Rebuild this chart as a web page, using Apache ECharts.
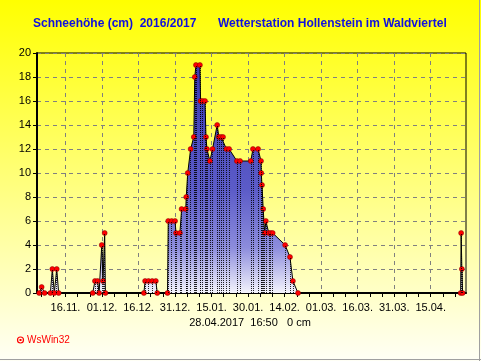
<!DOCTYPE html>
<html><head><meta charset="utf-8">
<script src="https://cdn.jsdelivr.net/npm/echarts@6/dist/echarts.min.js"></script>
<style>html,body{margin:0;padding:0;background:#fff}#c{width:481px;height:361px}</style>
</head><body><div id="c"></div>
<script>
// days since 01.11.2016 (fractional = readings within a day)
const dayOffset = [4.2,5.2,6.4,8.8,9.6,10.4,11.4,12.2,
  26.2,27.1,28.2,28.8,29.9,30.4,31.1,31.4,
  47.2,47.7,49.1,50.6,52.1,52.7,
  56.9,57.2,58.6,60.0,60.4,62.0,62.7,64.4,64.6,65.2,66.4,67.7,68.1,68.6,70.2,70.5,71.3,72.3,72.7,73.1,74.3,75.4,77.3,78.0,78.9,79.7,81.1,82.2,85.4,86.7,91.1,92.0,94.1,95.3,95.4,95.7,96.2,96.8,97.3,98.5,99.3,100.1,105.2,107.2,108.4,110.5,
  177.3,177.5,177.8,178.1];
const snowCm = [0,0.5,0,0,2,0,2,0,
  0,1,1,0,4,1,5,0,
  0,1,1,1,1,0,
  0,6,6,6,5,5,7,7,8,10,12,13,18,19,19,16,16,16,13,12,11,12,14,13,13,13,12,12,11,11,11,12,12,11,10,9,7,5,6,5,5,5,4,3,1,0,
  0,5,2,0];
const tickDays = [15,30,45,60,75,90,105,120,135,150,165];
const tickLabels = ["16.11.","01.12.","16.12.","31.12.","15.01.","30.01.","14.02.","01.03.","16.03.","31.03.","15.04."];
const titleLeft = "Schneehöhe (cm)  2016/2017";
const titleRight = "Wetterstation Hollenstein im Waldviertel";
const footer = "28.04.2017  16:50   0 cm";
const brand = "WsWin32";

const chart = echarts.init(document.getElementById('c'), null, {renderer:'canvas'});
const points = dayOffset.map((d,i)=>[d, snowCm[i]]);
const hatch = points.filter(p=>p[1]>0).map(p=>[{coord:[p[0],0]},{coord:[p[0],p[1]]}]);
const minorTicks = []; for (let d=5; d<=175; d+=5) minorTicks.push(d);
const labelMap = {}; tickDays.forEach((d,i)=>labelMap[d]=tickLabels[i]);
const FF = '"Liberation Sans", Arial, sans-serif';
const XMIN = 3.3, XMAX = 179.5;

chart.setOption({
  animation:false,
  backgroundColor:{type:'linear',x:0,y:0,x2:0,y2:1,colorStops:[{offset:0,color:'#ffff00'},{offset:1,color:'#fffff6'}]},
  grid:{left:37, top:53, width:429, height:240, show:true, borderColor:'#000', borderWidth:1, backgroundColor:'transparent'},
  xAxis:[
    {type:'value', min:XMIN, max:XMAX, position:'bottom',
     axisLine:{show:true, onZero:false, lineStyle:{color:'#000', width:2}},
     axisTick:{show:true, customValues:minorTicks, length:4, lineStyle:{color:'#000'}},
     axisLabel:{customValues:tickDays, formatter:v=>labelMap[v]||'', color:'#000', fontSize:11, fontFamily:FF, margin:9},
     splitLine:{show:false}},
    {type:'value', min:XMIN, max:XMAX, position:'top',
     axisLine:{show:true, lineStyle:{color:'#000', width:1}},
     axisTick:{show:true, inside:true, customValues:tickDays, length:3, lineStyle:{color:'#000'}},
     axisLabel:{show:false},
     splitLine:{show:true, lineStyle:{color:'#808080', width:1, type:[4,4]}}}
  ],
  yAxis:{type:'value', min:0, max:20, interval:2,
    axisLine:{show:true, lineStyle:{color:'#000', width:2}},
    axisTick:{show:true, length:4, lineStyle:{color:'#000'}},
    axisLabel:{color:'#000', fontSize:11, fontFamily:FF, margin:6},
    splitLine:{show:true, lineStyle:{color:'#808080', width:1, type:[4,4]}}},
  graphic:[
    {type:'text', x:33, y:24, style:{text:titleLeft, fill:'#1010e0', font:'bold 12px '+FF, textVerticalAlign:'middle', verticalAlign:'middle'}},
    {type:'text', x:218, y:24, style:{text:titleRight, fill:'#1010e0', font:'bold 12px '+FF, textVerticalAlign:'middle', verticalAlign:'middle'}},
    {type:'text', x:250, y:323, style:{text:footer, fill:'#000', font:'11px '+FF, textAlign:'center', align:'center', textVerticalAlign:'middle', verticalAlign:'middle'}},
    {type:'circle', shape:{cx:20.5, cy:340, r:3}, style:{fill:'none', stroke:'#ff0000', lineWidth:1.2}},
    {type:'rect', shape:{x:19.5, y:339, width:2, height:2}, style:{fill:'#ff0000'}},
    {type:'text', x:27, y:340, style:{text:brand, fill:'#ff0000', font:'10px '+FF, textVerticalAlign:'middle', verticalAlign:'middle'}},
    {type:'line', shape:{x1:479.5, y1:0, x2:479.5, y2:361}, style:{stroke:'#a0a0a0', lineWidth:1}},
    {type:'line', shape:{x1:0, y1:359.5, x2:481, y2:359.5}, style:{stroke:'#a0a0a0', lineWidth:1}}
  ],
  series:[{
    type:'line', xAxisIndex:0, yAxisIndex:0, data:points,
    symbol:'circle', symbolSize:5, showSymbol:true,
    itemStyle:{color:'#ff0000', borderColor:'#800000', borderWidth:0.5},
    lineStyle:{color:'#000', width:1},
    areaStyle:{opacity:1, color:{type:'linear',x:0,y:0,x2:0,y2:1,colorStops:[{offset:0,color:'#3a3ab4'},{offset:0.55,color:'#5c5cc8'},{offset:0.8,color:'#8c8cdc'},{offset:1,color:'#f4f4fc'}]}},
    markLine:{silent:true, symbol:'none', label:{show:false}, animation:false,
      lineStyle:{color:'#000', width:1, type:[1,1], opacity:0.85}, data:hatch},
    z:3
  }]
});
</script></body></html>
